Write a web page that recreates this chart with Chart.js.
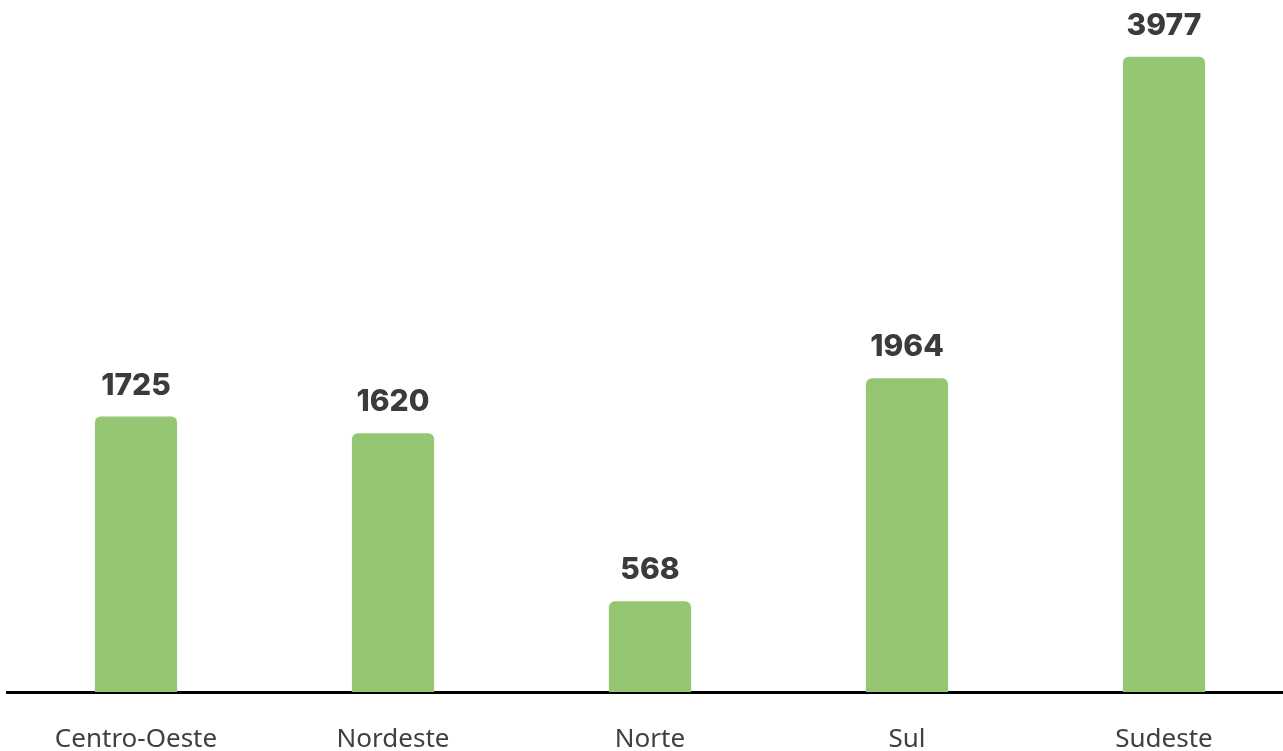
<!DOCTYPE html>
<html>
<head>
<meta charset="utf-8">
<script src="https://cdn.jsdelivr.net/npm/chart.js@4/dist/chart.umd.min.js"></script>
<style>
  html, body { margin: 0; padding: 0; background: #ffffff; overflow: hidden; }
  #wrap { position: absolute; left: 0; top: 0; width: 1300px; height: 751px; }
</style>
</head>
<body>
<div id="wrap"><canvas id="chart" width="1300" height="751"></canvas></div>
<script>
// Regions and their totals
const regions = ['Centro-Oeste', 'Nordeste', 'Norte', 'Sul', 'Sudeste'];
const totals = [1725, 1620, 568, 1964, 3977];
const yMax = 4333;

const barColor = '#95C673';
const labelColor = '#3B3B3B';

// Writes each bar's value just above it
const valueLabels = {
  id: 'valueLabels',
  afterDatasetsDraw(chart) {
    const ctx = chart.ctx;
    const meta = chart.getDatasetMeta(0);
    ctx.save();
    ctx.font = '800 30px Inter, "Open Sans", sans-serif';
    ctx.fillStyle = labelColor;
    ctx.textAlign = 'center';
    ctx.textBaseline = 'middle';
    meta.data.forEach((bar, i) => {
      ctx.fillText(String(totals[i]), bar.x, bar.y - 31);
    });
    ctx.restore();
  }
};

new Chart(document.getElementById('chart'), {
  type: 'bar',
  data: {
    labels: regions,
    datasets: [{
      data: totals,
      backgroundColor: barColor,
      borderRadius: 6,
      borderSkipped: 'start',
      barPercentage: 0.32,
      categoryPercentage: 1.0
    }]
  },
  options: {
    responsive: false,
    animation: false,
    layout: { padding: { left: 7.5, right: 7.5, top: 0, bottom: 0 } },
    plugins: { legend: { display: false }, tooltip: { enabled: false } },
    scales: {
      y: { display: false, min: 0, max: yMax },
      x: {
        grid: { display: false, drawTicks: false },
        border: { display: true, color: '#000000', width: 3 },
        ticks: {
          color: '#404040',
          font: { family: '"Source Sans Pro", "Noto Sans", sans-serif', size: 26 },
          padding: 32,
          maxRotation: 0
        },
        afterFit(scale) { scale.height = 59; }
      }
    }
  },
  plugins: [valueLabels]
});
</script>
</body>
</html>
